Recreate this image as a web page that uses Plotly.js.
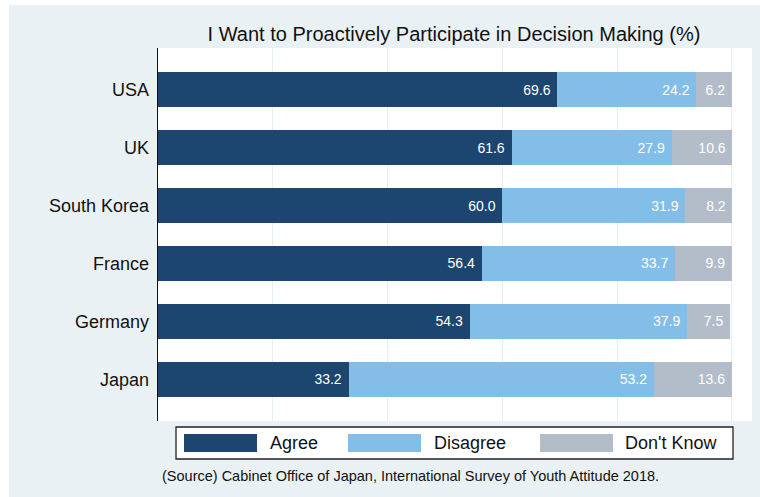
<!DOCTYPE html>
<html><head><meta charset="utf-8">
<script src="https://cdn.plot.ly/plotly-3.0.1.min.js"></script>
<style>
html,body{margin:0;padding:0;background:#ffffff;width:760px;height:497px;overflow:hidden;}
#chart{position:absolute;left:9px;top:5px;width:751px;height:492px;}
</style></head>
<body><div id="chart"></div>
<script>
const countries = ["Japan", "Germany", "France", "South Korea", "UK", "USA"];
const agree = [33.2, 54.3, 56.4, 60.0, 61.6, 69.6];
const disagree = [53.2, 37.9, 33.7, 31.9, 27.9, 24.2];
const dontKnow = [13.6, 7.5, 9.9, 8.2, 10.6, 6.2];
const seriesNames = ["Agree", "Disagree", "Don't Know"];
const seriesColors = ["#1c466f", "#82bee8", "#b2bdc9"];
const titleText = "I Want to Proactively Participate in Decision Making (%)";
const sourceText = "(Source) Cabinet Office of Japan, International Survey of Youth Attitude 2018.";

const FONT = "Liberation Sans, Arial, Helvetica, sans-serif";
const values = [agree, disagree, dontKnow];
const traces = values.map((v, i) => ({
  type: "bar", orientation: "h", y: countries, x: v, name: seriesNames[i],
  marker: {color: seriesColors[i], line: {width: 0}},
  texttemplate: "%{x:.1f}\u00a0", textposition: "inside", insidetextanchor: "end",
  textangle: 0, constraintext: "none",
  textfont: {family: FONT, size: 14, color: "#ffffff"},
  showlegend: false, hoverinfo: "x+y+name"
}));

// plot area in page pixels: x 158..752, y 48..421
const PL = 158, PW = 594, PT = 48, PH = 373;
const px = p => (p - PL) / PW;
const py = p => (PT + PH - p) / PH;

const shapes = [{type: "rect", xref: "paper", yref: "paper", x0: px(176), x1: px(733), y0: py(459), y1: py(427),
  line: {color: "#222222", width: 1.3}, fillcolor: "#ffffff", layer: "below"}];
const annotations = [];
const swX = [184, 348, 540], txX = [268, 432, 623];
seriesNames.forEach((n, i) => {
  shapes.push({type: "rect", xref: "paper", yref: "paper", x0: px(swX[i]), x1: px(swX[i] + 73),
    y0: py(452), y1: py(434), line: {width: 0}, fillcolor: seriesColors[i]});
  annotations.push({xref: "paper", yref: "paper", x: px(txX[i]), y: py(443), xanchor: "left", yanchor: "middle",
    text: n, showarrow: false, font: {family: FONT, size: 18, color: "#111111"}});
});
annotations.push({xref: "paper", yref: "paper", x: px(410), y: py(476), xanchor: "center", yanchor: "middle",
  text: sourceText, showarrow: false, font: {family: FONT, size: 14.5, color: "#111111"}});

const layout = {
  width: 751, height: 492,
  paper_bgcolor: "#eaf1f4", plot_bgcolor: "#ffffff",
  margin: {l: 149, r: 8, t: 43, b: 76, pad: 0},
  barmode: "stack", bargap: 0.4,
  title: {text: titleText, x: px(454), xref: "paper", xanchor: "center", y: 1 - 29 / 492, yref: "container", yanchor: "middle",
    font: {family: FONT, size: 20, color: "#111111"}},
  xaxis: {range: [0, 103.5], tickvals: [0, 20, 40, 60, 80, 100], showticklabels: false, showgrid: true,
    gridcolor: "#e6eef1", gridwidth: 1, zeroline: false, showline: false, fixedrange: true},
  yaxis: {range: [-0.716, 5.716], showline: true, linecolor: "#111111", linewidth: 1.3, showgrid: false,
    ticks: "", ticklabelstandoff: 4, tickfont: {family: FONT, size: 18, color: "#111111"}, fixedrange: true},
  shapes: shapes, annotations: annotations,
  showlegend: false, font: {family: FONT}
};
Plotly.newPlot("chart", traces, layout, {displayModeBar: false, staticPlot: true});
</script></body></html>
